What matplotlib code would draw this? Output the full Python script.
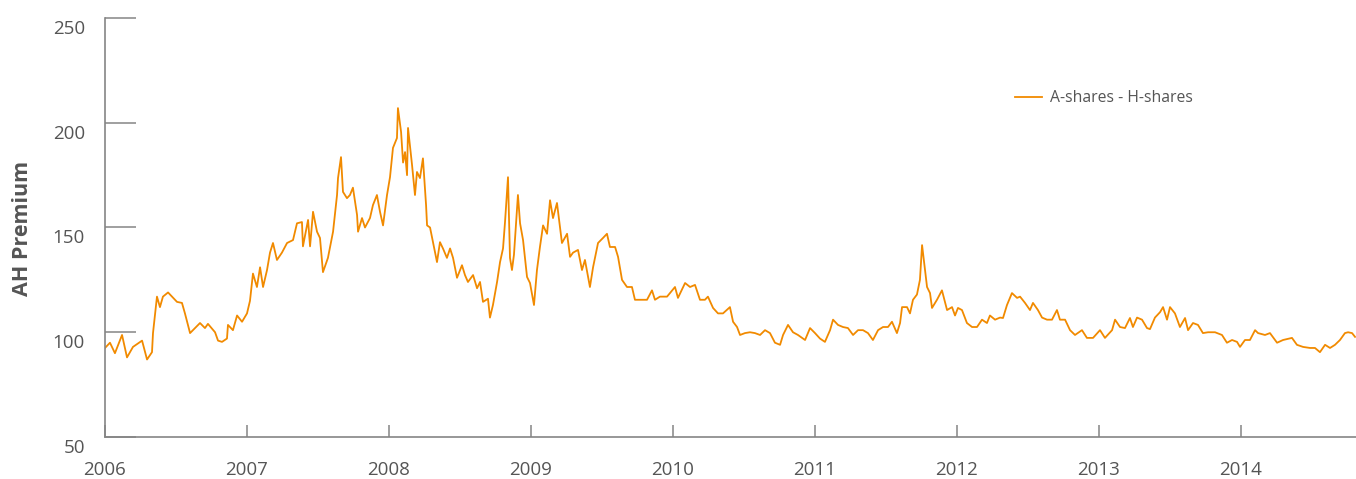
import matplotlib
matplotlib.use("Agg")
import matplotlib.pyplot as plt
from matplotlib.transforms import ScaledTranslation

plt.rcParams['font.family'] = ['Open Sans', 'DejaVu Sans']

years = [
    2006.000, 2006.035, 2006.070, 2006.120, 2006.155, 2006.197, 2006.261, 2006.296, 2006.331, 2006.338,
    2006.366, 2006.387, 2006.408, 2006.444, 2006.472, 2006.507, 2006.542, 2006.563, 2006.599, 2006.634,
    2006.669, 2006.704, 2006.725, 2006.775, 2006.796, 2006.824, 2006.859, 2006.866, 2006.901, 2006.930,
    2006.965, 2007.000, 2007.021, 2007.042, 2007.070, 2007.092, 2007.113, 2007.141, 2007.162, 2007.183,
    2007.211, 2007.246, 2007.282, 2007.324, 2007.352, 2007.387, 2007.394, 2007.430, 2007.444, 2007.465,
    2007.493, 2007.514, 2007.535, 2007.570, 2007.606, 2007.634, 2007.641, 2007.662, 2007.676, 2007.704,
    2007.725, 2007.746, 2007.775, 2007.782, 2007.810, 2007.831, 2007.866, 2007.887, 2007.915, 2007.937,
    2007.958, 2007.986, 2008.007, 2008.028, 2008.056, 2008.063, 2008.085, 2008.099, 2008.113, 2008.127,
    2008.134, 2008.162, 2008.183, 2008.197, 2008.218, 2008.239, 2008.261, 2008.268, 2008.289, 2008.310,
    2008.338, 2008.359, 2008.380, 2008.408, 2008.430, 2008.451, 2008.479, 2008.514, 2008.535, 2008.556,
    2008.592, 2008.620, 2008.641, 2008.662, 2008.697, 2008.711, 2008.732, 2008.761, 2008.782, 2008.803,
    2008.817, 2008.838, 2008.852, 2008.866, 2008.880, 2008.894, 2008.908, 2008.923, 2008.944, 2008.972,
    2008.993, 2009.021, 2009.042, 2009.063, 2009.085, 2009.113, 2009.134, 2009.155, 2009.183, 2009.204,
    2009.218, 2009.254, 2009.275, 2009.296, 2009.331, 2009.359, 2009.380, 2009.415, 2009.437, 2009.472,
    2009.507, 2009.535, 2009.556, 2009.592, 2009.613, 2009.641, 2009.676, 2009.711, 2009.732, 2009.768,
    2009.817, 2009.852, 2009.873, 2009.908, 2009.958, 2010.014, 2010.035, 2010.085, 2010.120, 2010.155,
    2010.190, 2010.225, 2010.246, 2010.282, 2010.317, 2010.352, 2010.401, 2010.423, 2010.451, 2010.472,
    2010.507, 2010.542, 2010.577, 2010.613, 2010.648, 2010.683, 2010.718, 2010.754, 2010.775, 2010.810,
    2010.845, 2010.880, 2010.930, 2010.965, 2011.000, 2011.035, 2011.070, 2011.106, 2011.127, 2011.162,
    2011.197, 2011.232, 2011.268, 2011.303, 2011.338, 2011.373, 2011.408, 2011.444, 2011.479, 2011.514,
    2011.542, 2011.577, 2011.599, 2011.613, 2011.648, 2011.669, 2011.690, 2011.718, 2011.739, 2011.754,
    2011.789, 2011.810, 2011.824, 2011.859, 2011.894, 2011.930, 2011.965, 2011.986, 2012.007, 2012.035,
    2012.070, 2012.106, 2012.141, 2012.176, 2012.211, 2012.232, 2012.268, 2012.303, 2012.324, 2012.352,
    2012.387, 2012.423, 2012.444, 2012.479, 2012.514, 2012.535, 2012.570, 2012.599, 2012.634, 2012.669,
    2012.704, 2012.725, 2012.761, 2012.796, 2012.831, 2012.880, 2012.915, 2012.958, 2013.007, 2013.042,
    2013.092, 2013.113, 2013.148, 2013.183, 2013.218, 2013.239, 2013.268, 2013.303, 2013.338, 2013.359,
    2013.394, 2013.430, 2013.451, 2013.479, 2013.500, 2013.535, 2013.570, 2013.606, 2013.627, 2013.662,
    2013.697, 2013.732, 2013.768, 2013.817, 2013.866, 2013.901, 2013.937, 2013.972, 2013.993, 2014.028,
    2014.063, 2014.099, 2014.120, 2014.169, 2014.204, 2014.254, 2014.296, 2014.359, 2014.394, 2014.437,
    2014.486, 2014.521, 2014.556, 2014.592, 2014.627, 2014.662, 2014.697, 2014.732, 2014.754, 2014.782,
    2014.803,
]

premium = [
    92.5, 95, 90, 98.7, 88, 93, 96, 87, 90.5, 99.6,
    117, 112, 117, 119, 117, 114.5, 114, 109, 99.6, 102,
    104.4, 102, 104, 100, 96, 95.4, 97, 103.5, 101, 108,
    105, 109, 115, 128, 121.6, 131, 121.6, 129.7, 138, 142.6,
    134.5, 138, 142.6, 144, 152, 152.6, 141, 153.6, 141, 157.5,
    148, 145, 128.7, 135.5, 148, 165.5, 173.6, 183.6, 167, 164,
    165.5, 169, 156, 148, 154.5, 150, 154.5, 160.7, 165.5, 157.4,
    151, 165.5, 174, 188, 192.7, 207, 195.6, 181, 186, 175,
    197.5, 180, 165.5, 176.5, 173.6, 183, 160.7, 151, 150, 143,
    133.5, 143, 140, 135.5, 140, 135.5, 126, 132, 127.3, 124,
    127.3, 121, 124, 114.5, 116, 107, 113, 124, 133.5, 140,
    152.6, 174, 135.5, 129.7, 137, 151, 165.5, 152, 144, 126.4,
    123.5, 113, 129.7, 140.7, 151, 147, 163, 154.5, 161.7, 150,
    142.6, 147, 136, 138, 139.3, 129.7, 134.5, 121.6, 131, 142.6,
    145, 147, 140.7, 140.7, 136, 125, 121.6, 121.6, 115.5, 115.5,
    115.5, 120, 115.5, 117, 117, 121.6, 116.4, 123.5, 121.6, 122.6,
    115.5, 115.5, 117, 111.6, 109, 109, 112, 105, 102.5, 98.7,
    99.6, 100, 99.6, 98.7, 101, 99.6, 95, 94, 98.7, 103.5,
    100, 98.7, 96.3, 102, 99.6, 97, 95.4, 101, 106, 103.5,
    102.5, 102, 98.7, 101, 101, 99.6, 96.3, 101, 102.5, 102.5,
    105, 99.6, 104.4, 112, 112, 109, 115.5, 118, 125, 141.6,
    121.6, 118.7, 111.6, 115.5, 120, 110.6, 112, 108, 111.6, 110.6,
    104.4, 102.5, 102.5, 106, 104.4, 108, 106, 107, 106.8, 113,
    118.7, 116.4, 117, 114, 110.6, 114, 110.6, 107, 106, 106,
    110.6, 106, 106, 101, 98.7, 101, 97.3, 97.3, 101, 97.3,
    101, 106, 102.5, 102, 106.8, 102.5, 107, 106, 102, 101.5,
    107, 109.6, 112, 106, 112, 109, 102.5, 106.8, 101, 104.4,
    103.5, 99.6, 100, 100, 98.7, 95, 96.3, 95.4, 93, 96.3,
    96.3, 101, 99.6, 98.7, 99.6, 95, 96.3, 97.3, 94, 93,
    92.5, 92.5, 90.5, 94, 92.5, 94, 96.3, 99.6, 100, 99.6,
    97.8,
]

xticks = [2006, 2007, 2008, 2009, 2010, 2011, 2012, 2013, 2014]
yticks = [50, 100, 150, 200, 250]
series_label = "A-shares - H-shares"
y_title = "AH Premium"

TEXT = "#555555"
AXIS = "#858585"
ORANGE = "#F18A00"

fig = plt.figure(figsize=(13.56, 4.79), dpi=100)
ax = fig.add_axes([105/1356, 42/479, 1 - 105/1356, (437-18)/479])

ax.plot(years, premium, color=ORANGE, lw=1.3, label=series_label)

ax.set_xlim(2006, 2006 + (1356-105)/142)
ax.set_ylim(50, 250)
ax.set_xticks(xticks)
ax.set_xticklabels([str(x) for x in xticks])
ax.set_yticks(yticks)
ax.set_yticklabels([str(y) for y in yticks])

for s in ['top', 'right']:
    ax.spines[s].set_visible(False)
for s in ['left', 'bottom']:
    ax.spines[s].set_color(AXIS)
    ax.spines[s].set_linewidth(1.2)

ax.tick_params(axis='y', direction='in', length=22.5, width=1.1, color=AXIS,
               labelsize=13.5, labelcolor=TEXT, pad=14.5)
ax.tick_params(axis='x', direction='in', length=8.6, width=1.1, color=AXIS,
               labelsize=13.5, labelcolor=TEXT, pad=17)

off = ScaledTranslation(0, -0.09, fig.dpi_scale_trans)
for lab in ax.get_yticklabels():
    lab.set_transform(lab.get_transform() + off)

fig.text(23/1356, 1 - 228/479, y_title, rotation=90, ha='center', va='center',
         fontsize=15.5, fontweight='bold', color=TEXT)

ax.legend(loc='center left', bbox_to_anchor=(1015/1356, 1 - 98/479),
          bbox_transform=fig.transFigure, frameon=False, fontsize=11.3,
          labelcolor=TEXT, handlelength=1.75, handletextpad=0.5,
          borderpad=0, borderaxespad=0)

fig.savefig("out.png", dpi=100)
